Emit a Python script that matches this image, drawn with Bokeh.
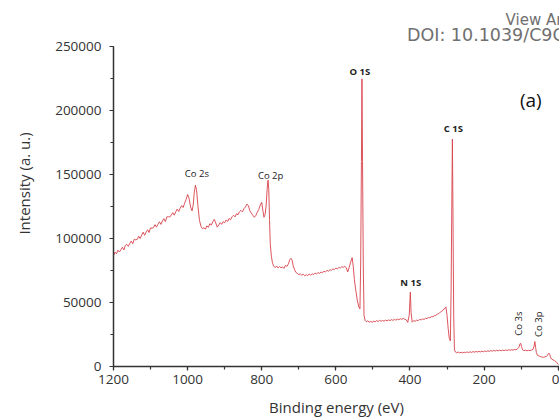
from bokeh.plotting import figure
from bokeh.models import Range1d, ColumnDataSource, Label, SingleIntervalTicker, BasicTickFormatter
from bokeh.core.properties import value
from bokeh.embed import file_html
from bokeh.resources import INLINE
import math

# ---- spectrum (binding energy eV, intensity a.u.) ----
be = [1200, 1196, 1192, 1188, 1184, 1180, 1176, 1172, 1168, 1164, 1160, 1156, 1152, 1148,
      1144, 1140, 1136, 1132, 1128, 1124, 1120, 1116, 1112, 1108, 1104, 1100, 1096, 1092,
      1088, 1084, 1080, 1076, 1072, 1068, 1064, 1060, 1056, 1052, 1048, 1044, 1040, 1036,
      1032, 1028, 1024, 1020, 1016, 1012, 1008, 1004, 1000, 996, 992, 988, 985, 982, 979,
      976, 972, 968, 964, 960, 956, 952, 948, 944, 940, 936, 932, 928, 924, 920, 916, 912,
      908, 904, 900, 896, 892, 888, 884, 880, 876, 872, 868, 864, 860, 856, 852, 848, 844,
      840, 836, 832, 828, 824, 820, 816, 812, 808, 804, 800, 797, 794, 791, 788, 785, 783,
      781, 779, 777, 774, 771, 768, 764, 760, 756, 752, 748, 744, 740, 736, 732, 728, 724,
      721, 718, 715, 712, 708, 704, 700, 696, 692, 688, 684, 680, 676, 672, 668, 664, 660,
      656, 652, 648, 644, 640, 636, 632, 628, 624, 620, 616, 612, 608, 604, 600, 596, 592,
      588, 584, 580, 576, 572, 568, 564, 560, 556, 553, 550, 546, 542, 538, 535, 533, 531,
      529.5, 528, 526, 524, 521, 518, 514, 510, 506, 502, 498, 494, 490, 486, 482, 478, 474,
      470, 466, 462, 458, 454, 450, 446, 442, 438, 434, 430, 426, 422, 418, 414, 410, 406,
      402, 399, 397, 394, 390, 386, 382, 378, 374, 370, 366, 362, 358, 354, 350, 346, 342,
      338, 334, 330, 326, 322, 318, 314, 310, 306, 303, 300, 297, 294, 291, 289, 287, 285.5,
      284, 282, 280, 277, 274, 270, 266, 262, 258, 254, 250, 246, 242, 238, 234, 230, 226,
      222, 218, 214, 210, 206, 202, 198, 194, 190, 186, 182, 178, 174, 170, 166, 162, 158,
      154, 150, 146, 142, 138, 134, 130, 126, 122, 118, 114, 110, 106, 103, 101, 99, 96, 92,
      88, 84, 80, 76, 72, 68, 65, 63, 61, 59, 56, 52, 48, 44, 40, 36, 32, 29, 27, 25, 23,
      21, 18, 14, 10, 6, 3, 0]
intensity = [86500, 89300, 87900, 90800, 89400, 91200, 93100, 91000, 94600, 95300, 93800,
             96200, 97900, 95800, 99300, 98900, 99200, 101700, 99900, 102600, 104900,
             102400, 104800, 106700, 104600, 108200, 107900, 108400, 110700, 108800,
             111100, 113000, 110900, 113600, 115400, 113100, 116800, 116900, 116700,
             118300, 120100, 118100, 120800, 122900, 121000, 123600, 125600, 124100,
             127500, 130500, 134300, 131000, 124500, 121500, 126000, 136000, 141500,
             138000, 125000, 114000, 109500, 107500, 108300, 107200, 109800, 108600,
             111500, 110400, 113000, 114800, 112000, 108800, 110500, 112300, 111000,
             113100, 112200, 114400, 113200, 115600, 114500, 116900, 118100, 116800,
             119300, 118400, 120800, 121900, 120700, 123200, 124500, 126800, 125400,
             121500, 119800, 118000, 116500, 117800, 120500, 122600, 126000, 128200,
             122000, 116500, 118500, 126000, 140000, 145500, 138000, 115000, 96000,
             86000, 81000, 78500, 77200, 78400, 76900, 78100, 77000, 77800, 76600, 78900,
             78200, 80100, 83500, 84500, 83000, 78500, 76000, 73500, 72800, 71600, 72400,
             71200, 72000, 70800, 71700, 71000, 72100, 71300, 72400, 71800, 72900, 72300,
             73300, 72700, 73800, 73200, 74300, 73900, 75000, 74400, 75500, 75100, 76200,
             75700, 76800, 76300, 77300, 76900, 77900, 77400, 78300, 77000, 73800, 77500,
             81500, 85000, 78000, 68000, 59000, 51500, 46500, 45000, 80000, 160000,
             224500, 160000, 80000, 40000, 36000, 35000, 35600, 34600, 35200, 34500,
             35400, 34900, 35800, 35100, 36000, 35300, 35900, 35400, 36200, 35600, 36400,
             35800, 36600, 36000, 36800, 36200, 37000, 36500, 37300, 36800, 37600, 36900,
             36400, 34500, 40000, 58000, 42000, 34600, 35800, 35300, 36200, 35800, 36800,
             36300, 37200, 36700, 37600, 37400, 38300, 38000, 39000, 38800, 39800, 39900,
             40900, 41300, 42500, 43200, 44100, 45600, 46500, 40000, 30000, 22000, 20000,
             60000, 130000, 177500, 120000, 40000, 13000, 11200, 10800, 11300, 10700,
             11100, 10600, 11200, 10800, 11400, 10900, 11500, 11000, 11600, 11200, 11700,
             11300, 11800, 11400, 11900, 11500, 12100, 11700, 12200, 11800, 12400, 12000,
             12500, 12100, 12600, 12200, 12700, 12300, 12800, 12400, 12900, 12500, 13000,
             12600, 13100, 12800, 13300, 13000, 13800, 15000, 17800, 18000, 15500, 13000,
             12400, 12700, 12300, 12600, 12400, 12900, 13400, 16000, 19500, 15000, 11000,
             8800, 8200, 7800, 7400, 7200, 7500, 7800, 8600, 9800, 10400, 9500, 7500, 5800,
             5200, 4500, 3800, 2800, 1500]

# ---- peak annotations ----
peak_names = ["Co 2s", "Co 2p", "O 1S", "C 1S", "N 1S", "Co 3s", "Co 3p"]
peak_be = [975, 776, 535, 283, 398, 106, 54]
peak_int = [150900, 149000, 230200, 185500, 65600, 33500, 33000]
peak_angle = [0, 0, 0, 0, 0, math.pi / 2, math.pi / 2]
peak_style = ["normal", "normal", "bold", "bold", "bold", "normal", "normal"]

p = figure(width=559, height=419, output_backend="svg", toolbar_location=None,
           x_range=Range1d(1200, -3.5), y_range=Range1d(0, 285700),
           min_border_left=113, min_border_right=0, min_border_top=0,
           min_border_bottom=53)
p.outline_line_color = None
p.xgrid.visible = False
p.ygrid.visible = False
p.background_fill_color = "white"
p.border_fill_color = "white"

p.line(be, intensity, line_color="#d8434b", line_width=1.0, line_alpha=0.9)

src = ColumnDataSource(dict(x=peak_be, y=peak_int, t=peak_names, a=peak_angle, s=peak_style))
p.text(x="x", y="y", text="t", angle="a", source=src, text_font=value("Open Sans"),
       text_font_size="9.5px", text_font_style="s", text_color="#222222",
       text_align="center", text_baseline="middle")

for ax in (p.xaxis[0], p.yaxis[0]):
    ax.axis_line_color = "#333333"
    ax.axis_line_width = 1.5
    ax.major_tick_line_color = "#333333"
    ax.minor_tick_line_color = "#333333"
    ax.major_tick_line_width = 1.2
    ax.minor_tick_line_width = 1.2
    ax.major_tick_out = 4
    ax.major_tick_in = 0
    ax.minor_tick_out = 3
    ax.minor_tick_in = 0
    ax.major_label_text_font = "Open Sans"
    ax.major_label_text_font_size = "13.5px"
    ax.major_label_text_color = "#333333"
    ax.axis_label_text_font = "Open Sans"
    ax.axis_label_text_font_size = "15px"
    ax.axis_label_text_font_style = "normal"
    ax.axis_label_text_color = "#333333"

p.xaxis.ticker = SingleIntervalTicker(interval=200, num_minor_ticks=2)
p.yaxis.ticker = SingleIntervalTicker(interval=50000, num_minor_ticks=2)
p.yaxis.formatter = BasicTickFormatter(use_scientific=False)
p.yaxis.bounds = (0, 250000)
p.xaxis.axis_label = "Binding energy (eV)"
p.yaxis.axis_label = "Intensity (a. u.)"
p.xaxis.major_label_standoff = 4
p.yaxis.major_label_standoff = 8
p.xaxis.axis_label_standoff = 10
p.yaxis.axis_label_standoff = 18

p.add_layout(Label(x=74, y=208400, text="(a)", text_font="Open Sans", text_font_size="19px",
                   text_color="#111111", text_align="center", text_baseline="middle"))

# watermark texts at the top right (cut by the page edge, as in the reference)
p.add_layout(Label(x=142, y=270400, text="View Ar", text_font="DejaVu Sans",
                   text_font_size="15px", text_color="#707070", text_baseline="middle"))
p.add_layout(Label(x=408, y=259000, text="DOI: 10.1039/C9C", text_font="DejaVu Sans",
                   text_font_size="17.5px", text_color="#707070", text_baseline="middle"))

open("out.html", "w").write(file_html(p, INLINE))
